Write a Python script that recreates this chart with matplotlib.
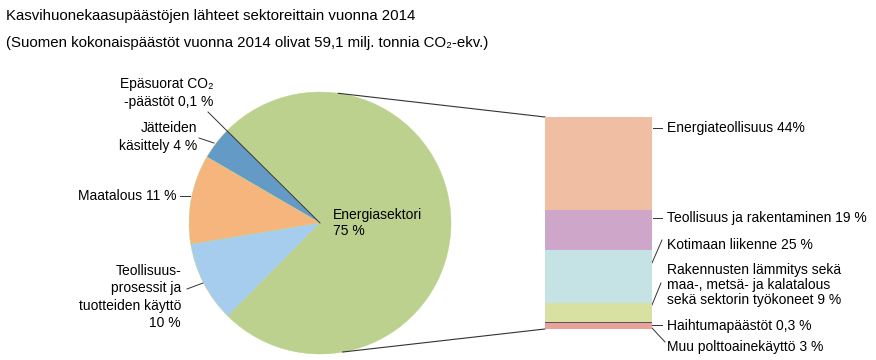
import matplotlib
matplotlib.use("Agg")
import matplotlib.pyplot as plt
from matplotlib import font_manager
import numpy as np

# fonts: narrow Helvetica-like if available
fams = ["Liberation Sans Narrow", "Liberation Sans", "DejaVu Sans"]
avail = {f.name for f in font_manager.fontManager.ttflist}
fams = [f for f in fams if f in avail] + ["DejaVu Sans"]
plt.rcParams["font.family"] = fams

# pie data (counterclockwise from bottom-left)
pie_labels = ["Energiasektori", "Epäsuorat CO₂ -päästöt", "Jätteiden käsittely",
              "Maatalous", "Teollisuusprosessit ja tuotteiden käyttö"]
pie_values = [75, 0.1, 4, 11, 10]
pie_colors = ["#bdd18e", "#555555", "#639bc6", "#f5b57d", "#a7cdee"]

# energy sector breakdown (top to bottom)
bar_labels = ["Energiateollisuus 44%", "Teollisuus ja rakentaminen 19 %",
              "Kotimaan liikenne 25 %",
              "Rakennusten lämmitys sekä\nmaa-, metsä- ja kalatalous\nsekä sektorin työkoneet 9 %",
              "Haihtumapäästöt 0,3 %", "Muu polttoainekäyttö 3 %"]
bar_values = [44, 19, 25, 9, 0.3, 3]
bar_colors = ["#efbea3", "#cda6c9", "#c5e3e5", "#d8e0a2", "#555555", "#e8a299"]

W, H = 876, 360
fig = plt.figure(figsize=(W / 100, H / 100), dpi=100)
ax = fig.add_axes([0, 0, 1, 1])

def py(y):
    # pixel y (from top) -> data y (from bottom)
    return H - y

cx, cy, r = 320, 223, 131
total = sum(pie_values)
start = 135 - 360 * pie_values[0] / total
ax.pie(pie_values, colors=pie_colors, startangle=start, counterclock=True,
       center=(cx, py(cy)), radius=r, frame=True,
       wedgeprops=dict(linewidth=0.3, edgecolor="#bdd18e"))
ax.set_xlim(0, W)
ax.set_ylim(0, H)
ax.set_aspect("equal")
ax.axis("off")

fs = 10
lc = "#333333"
# title
ax.text(6, py(16), "Kasvihuonekaasupäästöjen lähteet sektoreittain vuonna 2014",
        fontsize=10.8, va="center", ha="left")
ax.text(6, py(43), "(Suomen kokonaispäästöt vuonna 2014 olivat 59,1 milj. tonnia CO₂-ekv.)",
        fontsize=10.8, va="center", ha="left")

# pie labels
ax.text(333, py(223), "Energiasektori\n75 %", fontsize=fs, ha="left", va="center",
        linespacing=1.25)
ax.text(213, py(93), "Epäsuorat CO₂\n-päästöt 0,1 %", fontsize=fs, ha="right",
        va="center", linespacing=1.3)
ax.plot([208, cx], [py(112), py(cy)], color=lc, lw=0.7)
ax.text(197, py(137), "Jätteiden\nkäsittely 4 %", fontsize=fs, ha="right",
        va="center", linespacing=1.3)
ax.plot([199, 214], [py(138), py(143)], color=lc, lw=0.7)
ax.text(176, py(196), "Maatalous 11 %", fontsize=fs, ha="right", va="center")
ax.plot([180, 190], [py(196), py(196)], color=lc, lw=0.7)
ax.text(181, py(297), "Teollisuus-\nprosessit ja\ntuotteiden käyttö\n10 %", fontsize=fs,
        ha="right", va="center", linespacing=1.3)
ax.plot([187, 203], [py(289), py(283)], color=lc, lw=0.7)

# stacked bar
bx0, bx1, by0, by1 = 545, 652, 117, 329
axb = fig.add_axes([bx0 / W, (H - by1) / H, (bx1 - bx0) / W, (by1 - by0) / H])
bottoms = np.concatenate([[0], np.cumsum(bar_values)[:-1]])
axb.bar(0, bar_values, bottom=bottoms, width=1, color=bar_colors, linewidth=0)
axb.set_xlim(-0.5, 0.5)
axb.set_ylim(sum(bar_values), 0)
axb.axis("off")

# connector lines pie -> bar
a1, a2 = np.radians(82), np.radians(-80)
ax.plot([cx + r * np.cos(a1), bx0], [py(cy) + r * np.sin(a1), py(by0)], color=lc, lw=0.8)
ax.plot([cx + r * np.cos(a2), bx0], [py(cy) + r * np.sin(a2), py(by1)], color=lc, lw=0.8)

# bar labels
tx = 667
ax.text(tx, py(128), bar_labels[0], fontsize=fs, va="center")
ax.plot([653, 662], [py(128), py(128)], color=lc, lw=0.7)
ax.text(tx, py(218), bar_labels[1], fontsize=fs, va="center")
ax.plot([653, 662], [py(218), py(218)], color=lc, lw=0.7)
ax.text(tx, py(245), bar_labels[2], fontsize=fs, va="center")
ax.plot([652, 662], [py(263), py(240)], color=lc, lw=0.7)
ax.text(tx, py(285), bar_labels[3], fontsize=fs, va="center", linespacing=1.05)
ax.plot([652, 661], [py(305), py(283)], color=lc, lw=0.7)
ax.text(tx, py(326), bar_labels[4], fontsize=fs, va="center")
ax.plot([652, 662], [py(324.5), py(324.5)], color=lc, lw=0.7)
ax.text(tx, py(347), bar_labels[5], fontsize=fs, va="center")
ax.plot([652, 665], [py(328), py(342)], color=lc, lw=0.7)

fig.savefig("out.png", dpi=100)
